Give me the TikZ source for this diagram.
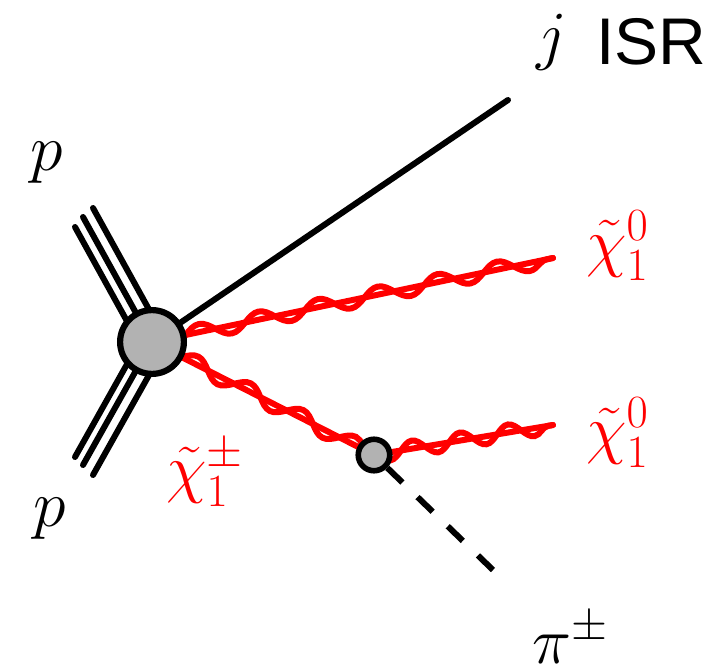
\RequirePackage{fix-cm}
\documentclass[tikz,border=0pt]{standalone}
\usepackage{fontspec}
\newfontfamily\isrfont{Liberation Sans}
\usetikzlibrary{decorations.pathmorphing,backgrounds}
\begin{document}
\begin{tikzpicture}[x=1pt,y=-1pt,
  blob/.style={circle, draw=black, fill=black!30, inner sep=0pt},
  proton/.style={draw=black, line width=6pt, line cap=round},
  jetline/.style={draw=black, line width=6pt, line cap=round},
  wino/.style={draw=red, line width=6pt, line cap=round,
    postaction={draw=red, line width=6pt, line cap=round, decorate,
      decoration={snake, amplitude=-8pt, segment length=#1}}},
  pion/.style={draw=black, line width=6pt, dash pattern=on 21pt off 21pt},
  lab/.style={font=\fontsize{66}{70}\selectfont, inner sep=0pt, anchor=base west},
  redlab/.style={lab, text=red}]
\useasboundingbox (0,0) rectangle (717,669);
% vertices
\node[blob, minimum size=63.8pt, line width=6.2pt] (V) at (152,342) {};
\node[blob, minimum size=31.5pt, line width=5.6pt] (W) at (374,455) {};
% free ends
\coordinate (J) at (508,100);
\coordinate (N1) at (553,258);
\coordinate (N2) at (553,425);
\coordinate (P) at (493,570);
\coordinate (pa1) at (75,227);   \coordinate (va1) at (141.6,347.6);
\coordinate (pa2) at (83,217);   \coordinate (va2) at (152,342);
\coordinate (pa3) at (93,208);   \coordinate (va3) at (163.4,335.6);
\coordinate (pb1) at (75,457);   \coordinate (vb1) at (142.4,336.7);
\coordinate (pb2) at (83,465);   \coordinate (vb2) at (152,342);
\coordinate (pb3) at (93,475);   \coordinate (vb3) at (163.8,348.7);
\begin{pgfonlayer}{background}
  \draw[proton] (pa1) -- (va1);
  \draw[proton] (pa2) -- (va2);
  \draw[proton] (pa3) -- (va3);
  \draw[proton] (pb1) -- (vb1);
  \draw[proton] (pb2) -- (vb2);
  \draw[proton] (pb3) -- (vb3);
  \draw[jetline] (V.center) -- (J);
  \draw[wino=60.92pt] (V.center) -- (N1);
  \draw[wino=58.96pt] (V.center) -- (W.center);
  \draw[wino=48.72pt] (W.center) -- (N2);
  \draw[pion] (W) -- (P);
\end{pgfonlayer}
% labels
\node[lab] (lj) at (536,57) {$j$};
\node[lab, font=\fontsize{66}{70}\isrfont] (lisr) at (596,65) {ISR};
\node[lab] (lp1) at (30,170) {$p$};
\node[lab] (lp2) at (33,526) {$p$};
\node[redlab] (ln1) at (586,264) {$\tilde{\chi}^0_1$};
\node[redlab] (ln2) at (586,451) {$\tilde{\chi}^0_1$};
\node[redlab] (lc) at (166,490) {$\tilde{\chi}^\pm_1$};
\node[lab] (lpi) at (532,663) {$\pi^\pm$};
\end{tikzpicture}
\end{document}
